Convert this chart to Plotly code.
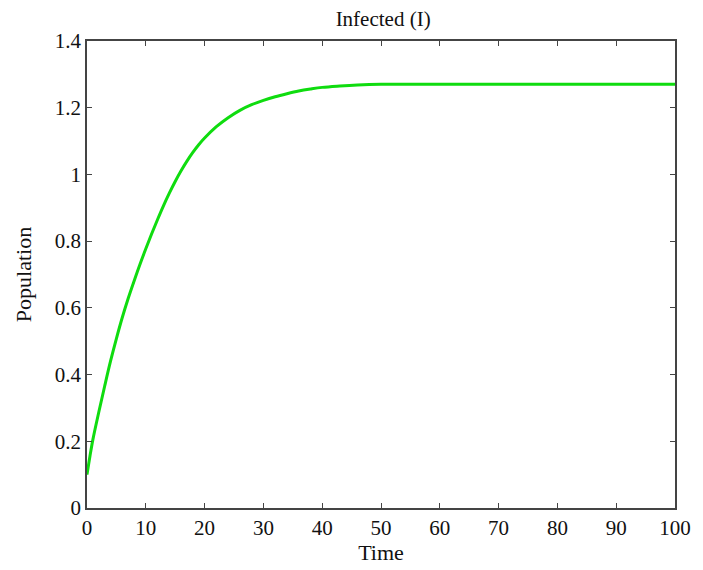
import plotly.graph_objects as go

# Hand-read samples of the Infected curve
time = [0, 0.5, 1, 2, 3, 4, 5, 6, 7, 8, 9, 10, 11, 12, 13, 14, 15, 16, 17, 18, 19, 20, 22, 24, 26, 28, 30, 32, 34, 36, 38, 40, 43, 46, 50, 60, 70, 80, 90, 100]
infected = [0.10, 0.155, 0.205, 0.287, 0.365, 0.44, 0.508, 0.571, 0.628, 0.68, 0.73, 0.777, 0.822, 0.865, 0.906, 0.944, 0.979, 1.011, 1.04, 1.066, 1.089, 1.109, 1.143, 1.17, 1.192, 1.209, 1.222, 1.233, 1.242, 1.25, 1.256, 1.261, 1.265, 1.268, 1.27, 1.27, 1.27, 1.27, 1.27, 1.27]

x_ticks = [0, 10, 20, 30, 40, 50, 60, 70, 80, 90, 100]
y_ticks = [0, 0.2, 0.4, 0.6, 0.8, 1, 1.2, 1.4]

font = "Liberation Serif, Times New Roman, serif"

fig = go.Figure()
fig.add_trace(go.Scatter(x=time, y=infected, mode="lines",
                         line=dict(color="#0fdc0f", width=3, shape="spline", smoothing=1.0),
                         showlegend=False))

axis_common = dict(
    showgrid=False, zeroline=False, showline=True, linecolor="#444444", linewidth=1.5,
    ticks="inside", ticklen=5, tickcolor="#444444", tickwidth=1, mirror="ticks",
    tickfont=dict(family=font, size=21, color="#111111"),
)

fig.update_layout(
    width=703, height=570,
    margin=dict(l=87, r=21, t=41, b=62),
    paper_bgcolor="white", plot_bgcolor="white",
    title=dict(text="Infected (I)", x=0.545, xanchor="center", y=0.968, yanchor="middle",
               font=dict(family=font, size=21, color="#111111")),
    xaxis=dict(range=[0, 100], tickvals=x_ticks,
               title=dict(text="Time", font=dict(family=font, size=22, color="#111111"), standoff=2),
               **axis_common),
    yaxis=dict(range=[0, 1.4], tickvals=y_ticks,
               title=dict(text="Population", font=dict(family=font, size=22, color="#111111"), standoff=17),
               **axis_common),
)

fig.write_html("out.html")
